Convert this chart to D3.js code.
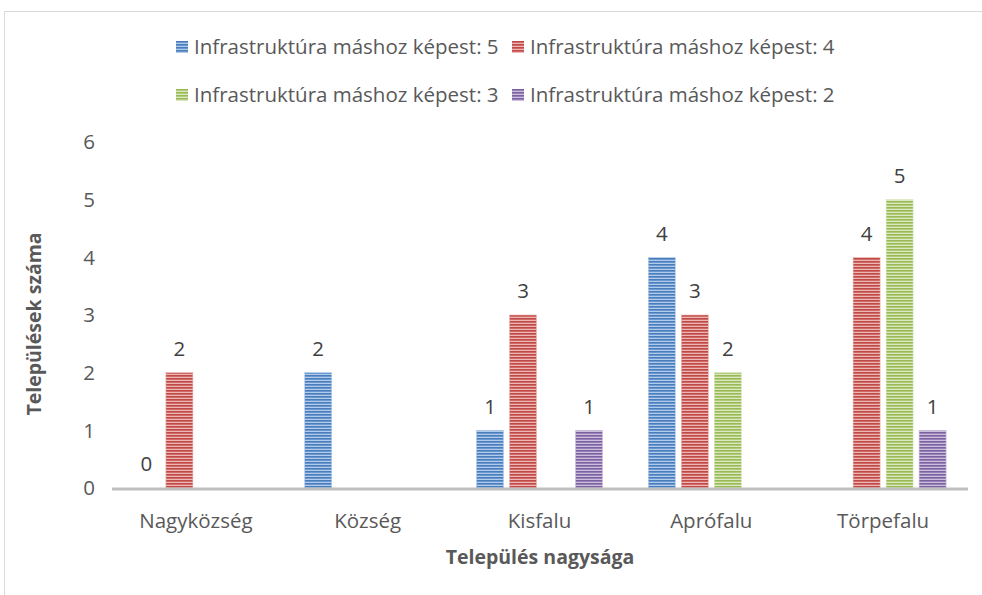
<!DOCTYPE html>
<html>
<head>
  <meta charset="utf-8">
  <style>
    body {
      margin: 0px;
      padding: 0px;
      background: #fff;
    }
    text {
      font-family: "Open Sans", Lato, sans-serif;
    }
  </style>
</head>
<body>
  <div id="chart"></div>
  <script src="https://cdn.jsdelivr.net/npm/d3@7"></script>
  <script>
    // data
    var categories = ['Nagyközség', 'Község', 'Kisfalu', 'Aprófalu', 'Törpefalu'];
    var seriesNames = [
      'Infrastruktúra máshoz képest: 5',
      'Infrastruktúra máshoz képest: 4',
      'Infrastruktúra máshoz képest: 3',
      'Infrastruktúra máshoz képest: 2'
    ];
    var values5 = [0, 2, 1, 4, null];
    var values4 = [2, null, 3, 3, 4];
    var values3 = [null, null, null, 2, 5];
    var values2 = [null, null, 1, null, 1];
    var yTicks = [0, 1, 2, 3, 4, 5, 6];

    var allValues = [values5, values4, values3, values2];
    // base, dark stripe, light stripe
    var colors = [
      ['#6a97d0', '#4a7ebb', '#b3cbea'],
      ['#d06a67', '#be4b48', '#edb5b3'],
      ['#b0cc78', '#98b954', '#dbe8c3'],
      ['#9580b8', '#7d60a0', '#cbbfdc']
    ];

    var width = 982, height = 595;
    var fs = 20.5;
    var svg = d3.select('#chart').append('svg')
      .attr('width', width).attr('height', height);

    var defs = svg.append('defs');
    colors.forEach(function(c, i) {
      var p = defs.append('pattern')
        .attr('id', 'stripe' + i)
        .attr('patternUnits', 'userSpaceOnUse')
        .attr('width', 6).attr('height', 3);
      p.append('rect').attr('width', 6).attr('height', 3).attr('fill', c[0]);
      p.append('rect').attr('width', 6).attr('height', 1).attr('y', 0).attr('fill', c[1]);
      p.append('rect').attr('width', 6).attr('height', 1).attr('y', 2).attr('fill', c[2]);
    });

    // chart area frame
    svg.append('rect')
      .attr('x', 4.5).attr('y', 11.5)
      .attr('width', 1000).attr('height', 600)
      .attr('fill', 'none').attr('stroke', '#d9d9d9');

    var x0 = d3.scaleBand().domain(categories).range([110, 969]);
    var x1 = d3.scaleBand().domain(d3.range(4)).range([0, 126]).paddingInner(6 / 33);
    var y = d3.scaleLinear().domain([0, 6]).range([488, 142]);

    // y tick labels
    svg.selectAll('.ytick')
      .data(yTicks)
      .enter()
      .append('text')
      .attr('class', 'ytick')
      .attr('x', 95)
      .attr('y', function(d) { return y(d); })
      .attr('dy', '0.35em')
      .attr('text-anchor', 'end')
      .attr('font-size', fs)
      .attr('fill', '#595959')
      .text(function(d) { return d; });

    // bars
    allValues.forEach(function(vals, s) {
      var data = categories.map(function(c, i) { return {cat: c, v: vals[i]}; })
        .filter(function(d) { return d.v !== null; });
      var g = svg.append('g');
      g.selectAll('rect')
        .data(data.filter(function(d) { return d.v > 0; }))
        .enter()
        .append('rect')
        .attr('x', function(d) { return x0(d.cat) + x0.bandwidth() / 2 - 63 + x1(s); })
        .attr('y', function(d) { return y(d.v); })
        .attr('width', x1.bandwidth())
        .attr('height', function(d) { return y(0) - y(d.v); })
        .attr('fill', 'url(#stripe' + s + ')')
        .attr('stroke', colors[s][2])
        .attr('stroke-width', 0.6);
      g.selectAll('text')
        .data(data)
        .enter()
        .append('text')
        .attr('x', function(d) { return x0(d.cat) + x0.bandwidth() / 2 - 63 + x1(s) + x1.bandwidth() / 2; })
        .attr('y', function(d) { return y(d.v) - 24; })
        .attr('dy', '0.35em')
        .attr('text-anchor', 'middle')
        .attr('font-size', fs)
        .attr('fill', '#404040')
        .text(function(d) { return d.v; });
    });

    // x axis line
    svg.append('line')
      .attr('x1', 112).attr('x2', 968)
      .attr('y1', y(0) + 1).attr('y2', y(0) + 1)
      .attr('stroke', '#bfbfbf').attr('stroke-width', 3);

    // category labels
    svg.selectAll('.xlab')
      .data(categories)
      .enter()
      .append('text')
      .attr('class', 'xlab')
      .attr('x', function(d) { return x0(d) + x0.bandwidth() / 2; })
      .attr('y', 521)
      .attr('dy', '0.35em')
      .attr('text-anchor', 'middle')
      .attr('font-size', fs)
      .attr('fill', '#595959')
      .text(function(d) { return d; });

    // axis titles
    svg.append('text')
      .attr('x', 540).attr('y', 557)
      .attr('dy', '0.35em')
      .attr('text-anchor', 'middle')
      .attr('font-size', 19.5).attr('font-weight', 'bold')
      .attr('fill', '#595959')
      .text('Település nagysága');
    svg.append('text')
      .attr('transform', 'translate(34, 324) rotate(-90)')
      .attr('dy', '0.35em')
      .attr('text-anchor', 'middle')
      .attr('font-size', 19.5).attr('font-weight', 'bold')
      .attr('fill', '#595959')
      .text('Települések száma');

    // legend, two rows of two
    var legendPos = [[176, 47], [512, 47], [176, 95], [512, 95]];
    seriesNames.forEach(function(name, i) {
      var lg = svg.append('g').attr('transform', 'translate(' + legendPos[i][0] + ',' + legendPos[i][1] + ')');
      lg.append('rect')
        .attr('x', 0).attr('y', -6)
        .attr('width', 12).attr('height', 12)
        .attr('fill', 'url(#stripe' + i + ')');
      lg.append('text')
        .attr('x', 18).attr('y', 0)
        .attr('dy', '0.35em')
        .attr('font-size', fs)
        .attr('fill', '#595959')
        .text(name);
    });
  </script>
</body>
</html>
